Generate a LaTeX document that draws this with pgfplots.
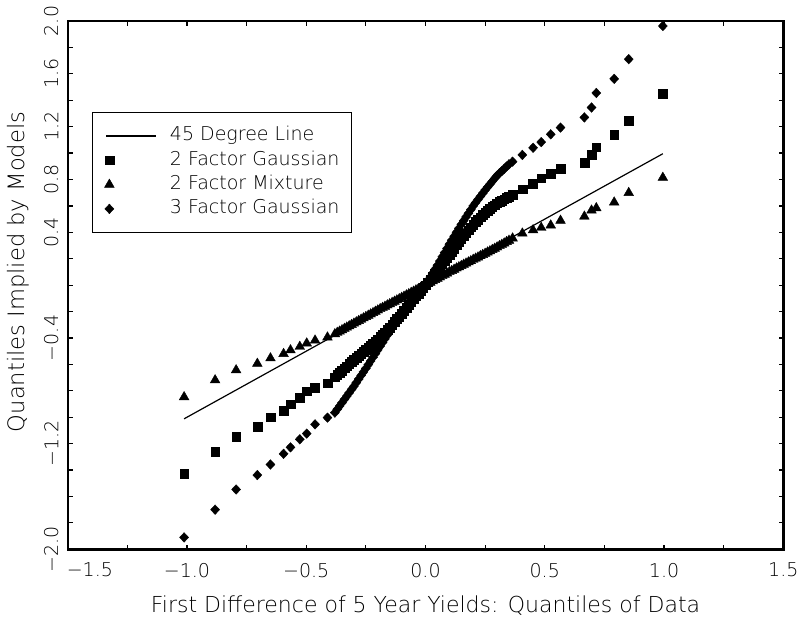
\documentclass[border=0pt]{standalone}
\usepackage{pgfplots}
\pgfplotsset{compat=1.18}
\usepackage{pgfplotstable}
\usepackage{fontspec}
\setmainfont{DejaVu Sans ExtraLight}

% Quantiles of the data (x) against the quantiles implied by each model
\pgfplotstableread{
x       gtwo    mtwo    gthree
-1.012  -1.425  -0.847  -1.910
-0.882  -1.259  -0.719  -1.700
-0.794  -1.149  -0.643  -1.547
-0.705  -1.069  -0.594  -1.438
-0.650  -1.000  -0.553  -1.358
-0.595  -0.952  -0.520  -1.277
-0.566  -0.901  -0.492  -1.228
-0.527  -0.852  -0.466  -1.167
-0.498  -0.803  -0.440  -1.124
-0.463  -0.775  -0.418  -1.054
-0.411  -0.742  -0.395  -1.003
-0.380  -0.697  -0.370  -0.965
-0.37   -0.680  -0.360  -0.940
-0.36   -0.662  -0.350  -0.915
-0.35   -0.645  -0.340  -0.890
-0.34   -0.629  -0.330  -0.865
-0.33   -0.613  -0.320  -0.840
-0.32   -0.597  -0.310  -0.815
-0.31   -0.581  -0.300  -0.790
-0.30   -0.565  -0.290  -0.765
-0.29   -0.550  -0.280  -0.738
-0.28   -0.535  -0.270  -0.711
-0.27   -0.520  -0.260  -0.684
-0.26   -0.505  -0.250  -0.657
-0.25   -0.490  -0.240  -0.630
-0.24   -0.474  -0.230  -0.602
-0.23   -0.458  -0.220  -0.574
-0.22   -0.442  -0.210  -0.546
-0.21   -0.426  -0.200  -0.518
-0.20   -0.410  -0.190  -0.490
-0.19   -0.392  -0.180  -0.462
-0.18   -0.374  -0.171  -0.434
-0.17   -0.356  -0.162  -0.406
-0.16   -0.338  -0.152  -0.378
-0.15   -0.320  -0.143  -0.350
-0.14   -0.299  -0.133  -0.324
-0.13   -0.278  -0.124  -0.298
-0.12   -0.257  -0.114  -0.272
-0.11   -0.236  -0.105  -0.246
-0.10   -0.215  -0.095  -0.220
-0.09   -0.193  -0.086  -0.197
-0.08   -0.171  -0.076  -0.174
-0.07   -0.149  -0.067  -0.151
-0.06   -0.127  -0.057  -0.128
-0.05   -0.105  -0.048  -0.105
-0.04   -0.084  -0.038  -0.084
-0.03   -0.063  -0.029  -0.063
-0.02   -0.042  -0.019  -0.042
-0.01   -0.021  -0.010  -0.021
 0.00    0.000   0.000   0.000
 0.01    0.022   0.010   0.030
 0.02    0.044   0.020   0.060
 0.03    0.066   0.030   0.090
 0.04    0.088   0.040   0.120
 0.05    0.110   0.050   0.150
 0.06    0.134   0.060   0.182
 0.07    0.158   0.070   0.214
 0.08    0.182   0.080   0.246
 0.09    0.206   0.090   0.278
 0.10    0.230   0.100   0.310
 0.11    0.254   0.109   0.340
 0.12    0.278   0.118   0.370
 0.13    0.302   0.128   0.400
 0.14    0.326   0.137   0.430
 0.15    0.350   0.146   0.460
 0.16    0.372   0.156   0.488
 0.17    0.394   0.165   0.516
 0.18    0.416   0.174   0.544
 0.19    0.438   0.183   0.572
 0.20    0.460   0.193   0.600
 0.21    0.478   0.202   0.624
 0.22    0.496   0.211   0.648
 0.23    0.514   0.221   0.672
 0.24    0.532   0.230   0.696
 0.25    0.550   0.239   0.720
 0.26    0.564   0.249   0.742
 0.27    0.578   0.258   0.764
 0.28    0.592   0.268   0.786
 0.29    0.606   0.277   0.808
 0.30    0.620   0.287   0.830
 0.31    0.630   0.297   0.847
 0.32    0.640   0.307   0.864
 0.33    0.650   0.317   0.881
 0.34    0.660   0.328   0.898
 0.35    0.670   0.338   0.915
 0.365   0.686   0.355   0.935
 0.406   0.727   0.392   0.986
 0.451   0.766   0.417   1.040
 0.485   0.809   0.435   1.083
 0.525   0.845   0.453   1.142
 0.566   0.883   0.489   1.193
 0.666   0.927   0.520   1.270
 0.696   0.986   0.566   1.345
 0.716   1.045   0.584   1.455
 0.791   1.140   0.627   1.562
 0.852   1.245   0.699   1.711
 0.995   1.447   0.814   1.962
}\quantiles

\pgfplotsset{
  markimage/.style={legend image code/.code={\draw[/tikz/only marks] plot coordinates {(1.5pt,0pt)};}},
}

\begin{document}
\begin{tikzpicture}[x=1pt,y=1pt]
\useasboundingbox (0,0) rectangle (400.5,310);
\begin{axis}[
  at={(33.85pt,35.35pt)}, anchor=south west,
  width=357.8pt, height=264.15pt, scale only axis,
  xmin=-1.5, xmax=1.5, ymin=-2, ymax=2,
  clip=false,
  font=\fontsize{11}{13}\selectfont,
  axis line style={line width=1.2pt},
  tick align=inside,
  major tick length=2.4pt, minor tick length=2.4pt,
  every tick/.style={black, line width=0.6pt},
  tick label style={font=\fontsize{9.5}{11}\selectfont},
  xtick={-1.5,-1,-0.5,0,0.5,1,1.5},
  xticklabels={{},−1.0,−0.5,0.0,0.5,1.0,1.5},
  minor xtick={-1.25,-0.75,-0.25,0.25,0.75,1.25},
  ytick={-2,-1.8,-1.6,-1.4,-1.2,-1,-0.8,-0.6,-0.4,-0.2,0,0.2,0.4,0.6,0.8,1,1.2,1.4,1.6,1.8,2},
  yticklabels={−2.0,{},{},{},−1.2,{},{},{},−0.4,{},{},{},0.4,{},0.8,{},1.2,{},1.6,{},2.0},
  xticklabel style={inner sep=0pt, anchor=north},
  xticklabel shift=6.6pt,
  yticklabel style={inner sep=0pt, rotate=90, anchor=south},
  yticklabel shift=4.5pt,
  xlabel={First Difference of 5 Year Yields: Quantiles of Data},
  ylabel={Quantiles Implied by Models},
  xlabel style={at={(axis description cs:0.5,-0.0880)}, anchor=north, inner sep=0pt},
  ylabel style={at={(axis description cs:-0.0535,0.525)}, anchor=south, inner sep=0pt,
    font=\fontsize{11.3}{13}\selectfont},
  legend cell align=left,
  legend style={
    at={(axis description cs:0.034,0.8277)}, anchor=north west,
    draw=black, line width=0.5pt, fill=white,
    font=\fontsize{9.5}{11}\selectfont,
    inner xsep=6pt, inner ysep=7pt,
    row sep=2.7pt, column sep=6.5pt,
    nodes={inner sep=0pt, text height=7.2pt, text depth=2.25pt},
  },
]
\addplot[black, line width=0.6pt,
  legend image code/.code={\draw[line width=0.6pt] (0pt,0pt) -- (25pt,0pt);}]
  coordinates {(-1.012,-1.012) (0.995,0.995)};
\addlegendentry{45 Degree Line}

\addplot[only marks, mark=square*, mark size=2.2pt,
  mark options={draw=black, fill=black, line width=0.2pt}, markimage]
  table[x=x, y=gtwo] {\quantiles};
\addlegendentry{2 Factor Gaussian}

\addplot[only marks, mark=triangle*, mark size=2.8pt,
  mark options={draw=black, fill=black, line width=0.2pt}, markimage]
  table[x=x, y=mtwo] {\quantiles};
\addlegendentry{2 Factor Mixture}

\addplot[only marks, mark=diamond*, mark size=2.4pt,
  mark options={draw=black, fill=black, line width=0.2pt, xscale=1.25}, markimage]
  table[x=x, y=gthree] {\quantiles};
\addlegendentry{3 Factor Gaussian}

% the leftmost tick label sits a little inside the corner
\node[anchor=north, inner sep=0pt, font=\fontsize{9.5}{11}\selectfont]
  at (axis description cs:0.031,-0.0250) {−1.5};
\end{axis}
\end{tikzpicture}
\end{document}
